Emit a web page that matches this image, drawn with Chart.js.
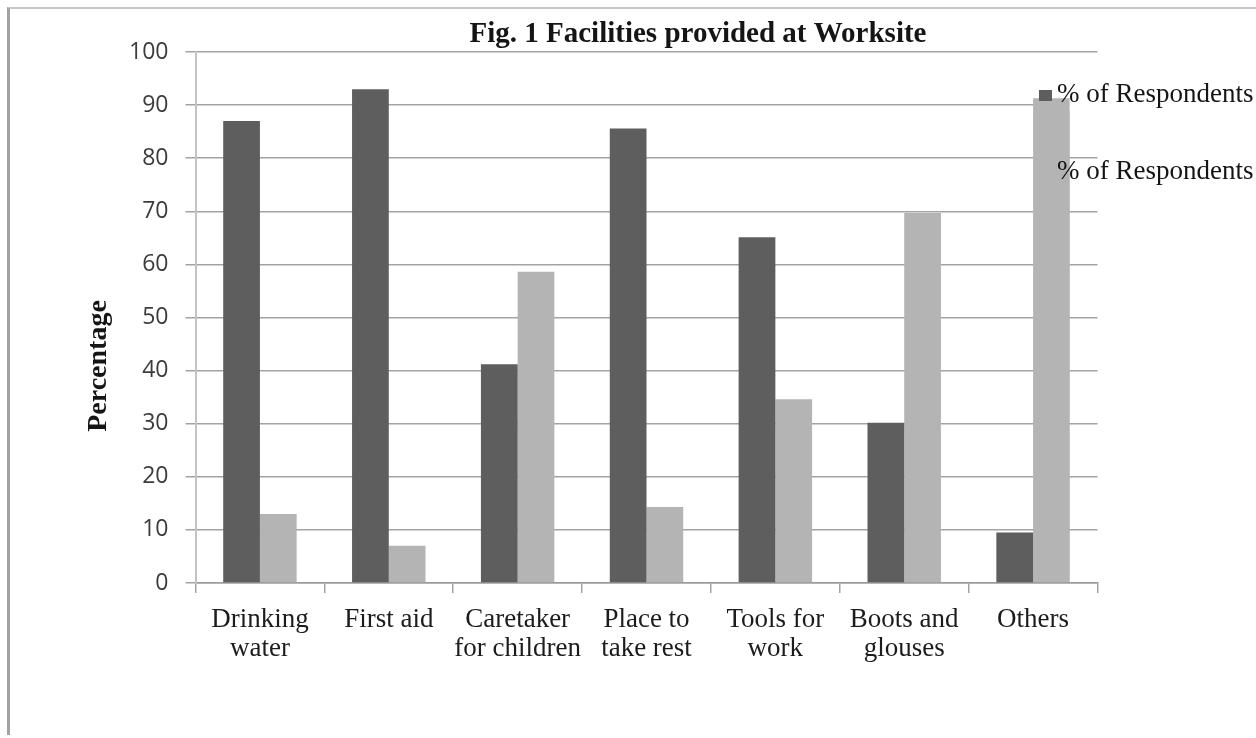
<!DOCTYPE html>
<html>
<head>
<meta charset="utf-8">
<title>Fig. 1 Facilities provided at Worksite</title>
<script src="https://cdn.jsdelivr.net/npm/chart.js@4.4.1/dist/chart.umd.min.js"></script>
<style>
    html, body { margin: 0; padding: 0; background: #fff; }
    #wrap { position: relative; width: 1256px; height: 738px; overflow: hidden; }
    #chart { position: absolute; left: 0; top: 0; }
    #frame {
        position: absolute; left: 7px; top: 7px; right: 0; bottom: 3px;
        border-left: 3px solid #a2a2a2;
        border-top: 2px solid #c6c6c6;
        pointer-events: none;
    }
</style>
</head>
<body>
<div id="wrap">
    <canvas id="chart" width="1256" height="738"></canvas>
    <div id="frame"></div>
</div>
<script>
const CHART_TITLE = 'Fig. 1 Facilities provided at Worksite'
const Y_TITLE = 'Percentage'

const categories = [
    ['Drinking', 'water'],
    'First aid',
    ['Caretaker', 'for children'],
    ['Place to', 'take rest'],
    ['Tools for', 'work'],
    ['Boots and', 'glouses'],
    'Others'
]
const seriesLabels = ['% of Respondents', '% of Respondents']
const providedValues = [87, 93, 41.2, 85.6, 65.1, 30.2, 9.5]
const notProvidedValues = [13, 7, 58.6, 14.3, 34.6, 69.7, 91.3]
const yMin = 0
const yMax = 100
const yStep = 10

const DARK = '#5e5e5e'
const LIGHT = '#b4b4b4'
const GRID = '#a3a3a3'
const SERIF = '"Liberation Serif", "Times New Roman", serif'

// title, rotated axis title and the legend sit where Excel put them, not where Chart.js would
const worksiteText = {
    id: 'worksiteText',
    afterDraw(chart) {
        const { ctx } = chart
        ctx.save()
        ctx.fillStyle = '#151515'

        ctx.font = 'bold 29px ' + SERIF
        ctx.textAlign = 'center'
        ctx.textBaseline = 'alphabetic'
        ctx.fillText(CHART_TITLE, 698, 42)

        ctx.save()
        ctx.translate(99, 366)
        ctx.rotate(-Math.PI / 2)
        ctx.font = 'bold 28px ' + SERIF
        ctx.textBaseline = 'middle'
        ctx.fillText(Y_TITLE, 0, 0)
        ctx.restore()

        // legend box hides the grid line right of the last bar
        const lastBar = chart.getDatasetMeta(1).data[categories.length - 1]
        const barRight = lastBar.x + lastBar.width / 2
        ctx.fillStyle = '#fff'
        ctx.fillRect(barRight, 99, chart.chartArea.right + 4 - barRight, 12)

        ctx.font = '27px ' + SERIF
        ctx.textAlign = 'left'
        ctx.textBaseline = 'middle'
        const rows = [95, 172]
        chart.data.datasets.forEach((ds, i) => {
            ctx.fillStyle = ds.backgroundColor
            ctx.fillRect(1039, rows[i] - 5, 13, 11)
            ctx.fillStyle = '#151515'
            ctx.fillText(ds.label, 1057, rows[i])
        })
        ctx.restore()
    }
}

new Chart(document.getElementById('chart').getContext('2d'), {
    type: 'bar',
    data: {
        labels: categories,
        datasets: [
            {
                label: seriesLabels[0],
                data: providedValues,
                backgroundColor: DARK,
                categoryPercentage: 0.57,
                barPercentage: 1
            },
            {
                label: seriesLabels[1],
                data: notProvidedValues,
                backgroundColor: LIGHT,
                categoryPercentage: 0.57,
                barPercentage: 1
            }
        ]
    },
    options: {
        responsive: false,
        animation: false,
        devicePixelRatio: 1,
        layout: { padding: { top: 52, right: 158.5, bottom: 0, left: 0 } },
        plugins: {
            legend: { display: false },
            title: { display: false },
            tooltip: { enabled: false }
        },
        scales: {
            x: {
                grid: { display: true, drawOnChartArea: false, drawTicks: true, tickLength: 10, color: GRID, lineWidth: 1.5 },
                border: { display: true, color: '#9a9a9a', width: 1.5 },
                ticks: {
                    color: '#1c1c1c',
                    font: { family: SERIF, size: 27, lineHeight: 1.08 },
                    padding: 12,
                    maxRotation: 0,
                    minRotation: 0,
                    autoSkip: false
                },
                afterFit(scale) { scale.height = 155 }
            },
            y: {
                min: yMin,
                max: yMax,
                grid: { color: GRID, lineWidth: 1.5, tickLength: 10, drawTicks: true },
                border: { display: true, color: '#c4c4c4', width: 2 },
                ticks: {
                    stepSize: yStep,
                    color: '#3c3c3c',
                    font: { family: '"Open Sans", sans-serif', size: 23 },
                    padding: 17
                },
                title: { display: false },
                afterFit(scale) { scale.width = 195.5 }
            }
        }
    },
    plugins: [worksiteText]
})
</script>
</body>
</html>
